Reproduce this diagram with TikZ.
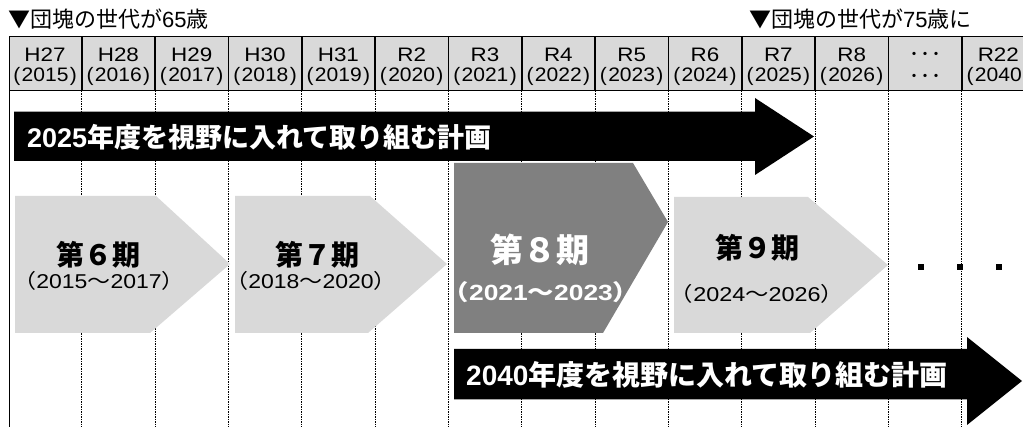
\documentclass[tikz,border=0pt]{standalone}
\usepackage{graphicx}
\usepackage{fontspec}
\setmainfont{Liberation Sans}
\newfontfamily\jp{Noto Sans CJK JP}
\definecolor{lg}{HTML}{D9D9D9}
\definecolor{dg}{HTML}{808080}
\newcommand\jpL{{\jp （}}
\newcommand\jpR{{\jp ）}}
\newcommand\jpT{{\jp ～}}
\newcommand\wideX[2]{\scalebox{#1}[1]{#2}}
\tikzset{
  gridline/.style={line width=0.9pt, dash pattern=on 1.5pt off 1pt},
  tableline/.style={line width=1.6pt},
  lightchev/.style={fill=lg},
  darkchev/.style={fill=dg},
  bigarrow/.style={fill=black},
  txt/.style={inner sep=0pt},
  celltxt/.style={txt, font=\fontsize{19.5}{21}\selectfont},
  toptxt/.style={txt, anchor=west, font=\fontsize{22}{24}\selectfont},
  arrtxt/.style={txt, anchor=west, text=white, font=\bfseries\fontsize{27}{29}\selectfont},
  phasetxt/.style={txt, font=\jp\bfseries\fontsize{28}{30}\selectfont},
  yeartxt/.style={txt, font=\fontsize{20}{22}\selectfont},
}
\begin{document}
\begin{tikzpicture}[x=1pt,y=-1pt]
\useasboundingbox (0,0) rectangle (1023,427);
\fill[white] (0,0) rectangle (1023,427);

% grid lines below table
\foreach \i in {1,...,13}{
  \pgfmathsetmacro\xx{8.4+73.33*\i}
  \draw[gridline] (\xx,91) -- (\xx,427);
}
\draw[tableline] (9.5,36.5) -- (9.5,427);

% table
\fill[lg] (9.5,36.5) rectangle (1035,90.5);
\draw[tableline] (9.5,36.5) -- (1035,36.5);
\draw[tableline] (9.5,90.5) -- (1035,90.5);
\foreach \i in {1,...,13}{
  \pgfmathsetmacro\xx{8.4+73.33*\i}
  \draw[tableline] (\xx,36.5) -- (\xx,90.5);
}
\foreach \i/\a/\b in {1/H27/2015,2/H28/2016,3/H29/2017,4/H30/2018,5/H31/2019,
  6/R2/2020,7/R3/2021,8/R4/2022,9/R5/2023,10/R6/2024,11/R7/2025,
  12/R8/2026,14/R22/2040}{
  \pgfmathsetmacro\xc{8.4+73.33*(\i-0.5)}
  \node[celltxt] (era\i) at (\xc,55) {\wideX{1.15}{\a}};
  \node[celltxt] (yr\i) at (\xc,76.5) {\wideX{1.08}{(\kern1.2pt\b\kern1.2pt)}};
}
\pgfmathsetmacro\xd{8.4+73.33*12.5}
\node[txt, font=\jp\bfseries\fontsize{12}{13}\selectfont] (era13) at (\xd,55) {・\kern-1pt・\kern-1pt・};
\node[txt, font=\jp\bfseries\fontsize{12}{13}\selectfont] (yr13) at (\xd,77) {・\kern-1pt・\kern-1pt・};

% top labels
\node[toptxt] (g65) at (8,19) {{\jp ▼団塊の世代が}65{\jp 歳}};
\node[toptxt] (g75) at (749,19) {{\jp ▼団塊の世代が}75{\jp 歳に}};

% arrow 2025
\fill[bigarrow] (14,111.7) -- (755,111.7) -- (755,98) -- (814,136.5) -- (755,175) -- (755,161) -- (14,161) -- cycle;
\node[arrtxt] (a2025) at (27,137) {2025{\jp\bfseries 年度を視野に入れて取り組む計画}};

% chevrons
\fill[lightchev] (15,196) -- (156,196) -- (230,264) -- (150,333) -- (15,333) -- cycle;
\fill[lightchev] (235,196) -- (370,196) -- (447,264) -- (368,333) -- (235,333) -- cycle;
\fill[darkchev] (454,163) -- (633,163) -- (668,222) -- (603,333) -- (454,333) -- cycle;
\fill[lightchev] (674,197) -- (808,197) -- (888,265) -- (810,333) -- (674,333) -- cycle;

\node[phasetxt] (p6) at (98,255) {第６期};
\node[yeartxt] (y6) at (99,281) {\wideX{1.15}{\jpL 2015\jpT 2017\jpR}};
\node[phasetxt] (p7) at (317,255) {第７期};
\node[yeartxt] (y7) at (311,281) {\wideX{1.15}{\jpL 2018\jpT 2020\jpR}};
\node[txt, text=white, font=\jp\bfseries\fontsize{33}{35}\selectfont] (p8) at (540,250) {第８期};
\node[txt, text=white, font=\bfseries\fontsize{22}{24}\selectfont] (y8) at (541,292) {\wideX{1.2}{{\jp\bfseries （}2021{\jp\bfseries ～}2023{\jp\bfseries ）}}};
\node[phasetxt] (p9) at (757,248) {第９期};
\node[yeartxt] (y9) at (757,294) {\wideX{1.17}{\jpL 2024\jpT 2026\jpR}};

% dots
\foreach \x in {921,960,999}{
  \fill[black] (\x-3,264) rectangle (\x+3,270);
}

% arrow 2040
\fill[bigarrow] (454,349) -- (967,349) -- (967,337) -- (1022,381) -- (967,425) -- (967,399.5) -- (454,399.5) -- cycle;
\node[arrtxt, font=\bfseries\fontsize{28}{30}\selectfont] (a2040) at (466,375) {2040{\jp\bfseries 年度を視野に入れて取り組む計画}};
\end{tikzpicture}
\end{document}
